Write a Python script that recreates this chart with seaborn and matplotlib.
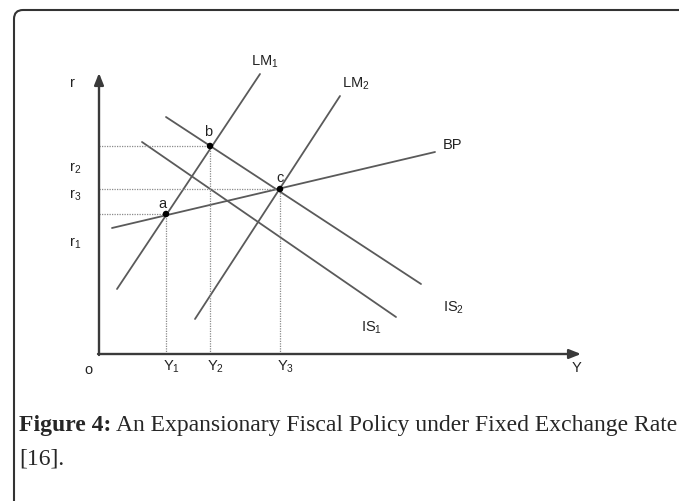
import numpy as np
import pandas as pd
import seaborn as sns
import matplotlib.pyplot as plt
from matplotlib.patches import FancyBboxPatch
from matplotlib.transforms import IdentityTransform

# --- curve end points (Y, r) ---
curve_names = ["LM1", "LM2", "IS1", "IS2", "BP"]
curve_y = [(3.6, 32.2), (19.2, 48.2), (8.6, 59.4), (13.4, 64.4), (2.6, 67.2)]
curve_r = [(13.0, 56.0), (7.0, 51.6), (42.4, 7.4), (47.4, 14.0), (25.2, 40.4)]

# --- equilibrium points a, b, c ---
point_names = ["a", "b", "c"]
point_y = [13.4, 22.2, 36.2]
point_r = [28.0, 41.6, 33.0]

# tick-like labels
ylabels_r = ["r$_2$", "r$_3$", "r$_1$"]
ylabels_r_pos = [37.4, 32.0, 22.4]
xlabels_y = ["Y$_1$", "Y$_2$", "Y$_3$"]

sns.set_style("white")
plt.rcParams["font.family"] = ["Liberation Sans", "DejaVu Sans"]
plt.rcParams["mathtext.fontset"] = "custom"
plt.rcParams["mathtext.rm"] = "Liberation Sans"
plt.rcParams["mathtext.it"] = "Liberation Sans"

fig = plt.figure(figsize=(6.79, 5.02), dpi=100)
ax = fig.add_axes([49 / 679, 97 / 502, 550 / 679, 350 / 502])
ax.set_xlim(-10, 100)
ax.set_ylim(-10, 60)
ax.axis("off")

# curves
rows = []
for name, ys, rs in zip(curve_names, curve_y, curve_r):
    for yy, rr in zip(ys, rs):
        rows.append({"curve": name, "Y": yy, "r": rr})
df = pd.DataFrame(rows)
sns.lineplot(data=df, x="Y", y="r", hue="curve", units="curve", estimator=None,
             sort=False, palette=["#5a5a5a"] * len(curve_names), lw=1.3,
             legend=False, ax=ax)

# dotted guides
for py, pr in zip(point_y, point_r):
    ax.plot([0, py], [pr, pr], ls=(0, (1.0, 1.0)), color="#8a8a8a", lw=0.9)
    ax.plot([py, py], [0, pr], ls=(0, (1.0, 1.0)), color="#8a8a8a", lw=0.9)

pts = pd.DataFrame({"Y": point_y, "r": point_r})
sns.scatterplot(data=pts, x="Y", y="r", color="black", s=22, ax=ax, zorder=5,
                edgecolor="none")

# axes with arrows
arrow = dict(arrowstyle="-|>,head_length=0.7,head_width=0.28", lw=1.7,
             color="#3a3a3a", shrinkA=0, shrinkB=0)
ax.annotate("", xy=(0, 56.2), xytext=(0, -0.2), arrowprops=arrow)
ax.annotate("", xy=(96.4, 0), xytext=(-0.2, 0), arrowprops=arrow)

fs = 10.5
tc = "#222222"
ax.text(-5.4, 54.4, "r", fontsize=fs, color=tc, ha="center", va="center")
for lab, pos in zip(ylabels_r, ylabels_r_pos):
    ax.text(-4.8, pos, lab, fontsize=fs, color=tc, ha="center", va="center")
for lab, pos in zip(xlabels_y, point_y):
    ax.text(pos + 1.2, -2.4, lab, fontsize=fs, color=tc, ha="center", va="center")
ax.text(-2.2, -3.0, "o", fontsize=fs, color=tc, ha="center", va="center")
ax.text(95.6, -2.6, "Y", fontsize=fs, color=tc, ha="center", va="center")

for lab, yy, rr in zip(point_names, [12.6, 21.8, 36.2], [30.2, 44.6, 35.4]):
    ax.text(yy, rr, lab, fontsize=fs, color=tc, ha="center", va="center")

curve_label_pos = {"LM1": (33.2, 58.6), "LM2": (51.4, 54.2), "IS1": (54.6, 5.4),
                   "IS2": (71.0, 9.4), "BP": (70.8, 42.0)}
curve_label_txt = {"LM1": "LM$_1$", "LM2": "LM$_2$", "IS1": "IS$_1$",
                   "IS2": "IS$_2$", "BP": "BP"}
for name in curve_names:
    x, y = curve_label_pos[name]
    ax.text(x, y, curve_label_txt[name], fontsize=fs, color=tc,
            ha="center", va="center")

# caption
cap_fs = 17
bold = fig.text(19 / 679, 1 - 426 / 502, "Figure 4:", fontsize=cap_fs,
                fontweight="bold", family="Liberation Serif", va="center",
                ha="left")
fig.canvas.draw()
bb = bold.get_window_extent()
fig.text((bb.x1 + 5) / 679, 1 - 426 / 502,
         "An Expansionary Fiscal Policy under Fixed Exchange Rate",
         fontsize=cap_fs, family="Liberation Serif", va="center", ha="left")
fig.text(19 / 679, 1 - 459 / 502, "[16].", fontsize=cap_fs,
         family="Liberation Serif", va="center", ha="left")

# rounded frame
frame = FancyBboxPatch((14, -40), 720, 531,
                       boxstyle="round,pad=0,rounding_size=9",
                       transform=IdentityTransform(), fill=False,
                       ec="#333333", lw=1.5)
fig.patches.append(frame)

fig.savefig("out.png", dpi=100)
